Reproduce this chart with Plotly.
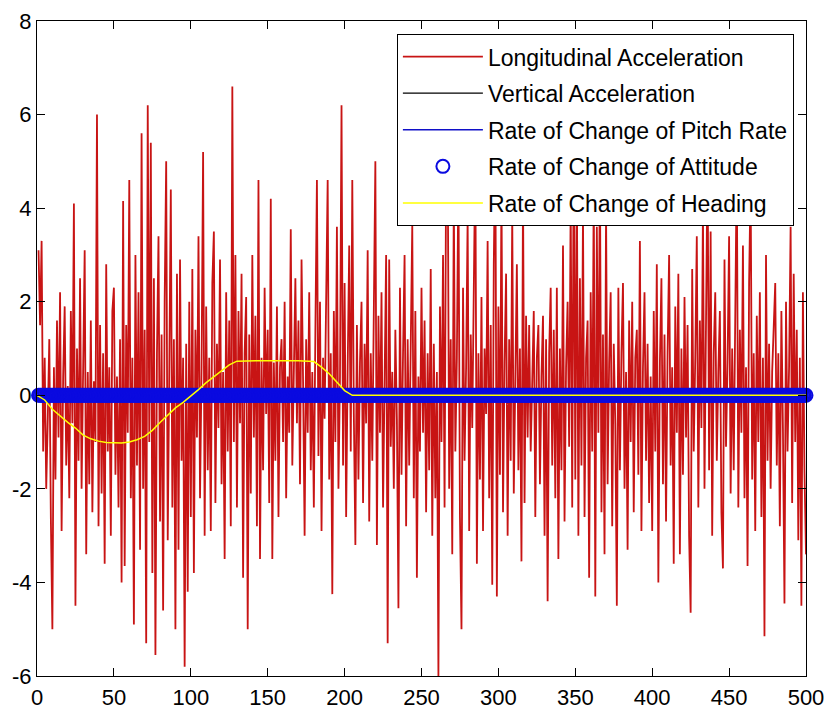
import plotly.graph_objects as go

# Longitudinal acceleration, samples 1..500
long_acc = [
    3.1, 1.5, 3.3, -1.2, 0.8, -2.0, -0.5, 1.2, -2.6, -5.0,
    0.6, -1.8, 1.6, -0.9, 2.2, -2.9, 0.4, 1.9, -1.5, 0.2,
    -2.2, 1.8, -0.6, 4.1, -4.5, 1.0, -1.4, 2.5, -2.0, 0.9,
    3.1, -3.4, 0.5, -1.9, 1.6, -2.5, 0.3, -1.0, 6.0, -2.8,
    1.5, -2.1, 0.9, -3.6, 2.8, -1.2, 0.6, -3.0, 1.8, 2.3,
    -1.7, 0.4, -2.4, 1.2, -4.0, 4.15, -3.65, 1.5, -0.8, 4.6,
    -2.2, 0.8, -4.9, 3.0, -1.5, 2.2, -3.3, 5.6, -2.0, 1.4,
    -5.3, 6.2, -1.0, 5.4, -3.8, 2.5, -5.55, 0.9, 3.4, -2.7,
    1.3, -4.6, 2.0, 5.0, -3.1, 0.5, 4.4, -2.4, 1.2, -5.0,
    2.6, -3.3, 2.9, -1.4, 0.8, -5.8, 1.1, -4.2, 2.0, -2.6,
    2.7, -3.8, 1.4, -0.9, 3.4, -2.2, 0.6, 5.2, -3.0, 1.9,
    -1.6, 0.8, -2.9, 2.4, 3.5, -2.3, 1.1, -0.7, 2.9, -1.9,
    0.5, -3.5, 2.2, -1.2, 1.6, -2.8, 6.6, -1.0, 3.0, -2.4,
    1.8, -0.6, 2.6, -3.9, 0.9, 2.1, -5.0, 1.3, -2.1, 3.0,
    -0.9, 1.7, -2.8, 4.6, -3.5, 0.8, -1.6, 2.3, -0.4, 1.4,
    -2.3, 4.2, -3.5, 0.7, -1.4, 1.9, -2.6, 0.6, 1.2, -1.0,
    2.0, -2.2, 0.4, -0.8, 3.55, -1.5, 1.0, 2.5, -0.6, 1.6,
    -1.9, 2.9, 0.3, -3.0, 1.2, -0.8, 2.2, -1.6, 0.5, -2.4,
    1.4, 4.6, -1.3, 2.0, -2.9, 0.8, -0.5, 2.6, 4.6, -1.8,
    0.9, -4.25, 1.8, -1.0, 3.6, -2.0, 0.4, 6.2, -1.5, 2.4,
    -2.6, 0.6, 3.2, -1.2, 4.6, -0.4, -3.2, 1.5, -1.8, 0.7,
    2.0, -2.3, 1.1, -0.6, 3.1, -2.7, 0.9, -1.4, 2.4, 5.0,
    -3.2, 1.7, -0.8, 2.2, -2.4, 0.6, 3.0, -5.3, 2.9, -1.1,
    0.5, -2.0, 1.4, -0.5, -4.55, 2.3, -1.7, 0.9, 3.0, -2.8,
    1.2, -1.5, 0.7, 3.65, -2.2, 1.8, -3.9, 0.4, -1.2, 2.3,
    -0.8, 1.6, -2.5, 0.9, -1.6, 2.7, -3.0, 1.1, -2.2, 0.5,
    -6.0, 1.9, -1.0, 3.0, -2.4, 4.8, 5.5, -2.0, 1.2, -3.4,
    4.3, -1.2, 0.8, 4.8, -2.6, -5.0, 2.3, -1.4, 0.6, 3.8,
    -2.9, 1.3, -0.7, 2.4, 5.2, -3.6, 0.9, -1.8, 2.1, -2.9,
    1.0, -0.4, 3.3, -2.2, 1.5, -4.05, 2.8, 5.6, -4.3, 1.9,
    -1.7, 4.5, -2.5, 0.7, 2.6, -3.0, 1.2, -1.4, 3.9, -2.1,
    0.5, 2.8, -1.6, 1.0, -3.55, 4.4, -2.3, 1.7, -0.9, 1.5,
    -1.2, 0.6, 1.8, -2.6, 0.8, 1.5, -1.9, 0.4, 1.7, -3.0,
    1.2, -4.4, 0.9, 2.3, -1.5, 1.4, -2.2, 2.3, -3.5, 1.0,
    -1.6, 3.2, -2.7, 0.6, 2.0, -1.1, 4.2, -2.4, 5.8, -1.8,
    4.8, -3.0, 2.5, -1.5, 3.9, -2.6, 0.8, 1.6, -3.9, 2.2,
    -1.2, 4.5, -4.3, 3.6, -0.8, 5.0, -2.5, 1.3, -3.4, 4.0,
    -1.9, 0.7, 2.2, -2.8, 1.1, -0.6, -4.5, 2.3, -1.6, 0.9,
    2.4, -2.0, 0.5, -3.3, 1.6, -1.0, 2.0, -2.5, 0.8, 1.4,
    -1.7, 3.3, -2.9, 0.6, 2.2, -1.4, 1.1, -2.3, 0.4, -2.9,
    1.8, -1.2, 2.8, -4.0, 0.7, 2.5, -1.9, 1.3, -2.7, 0.9,
    3.0, -1.5, 0.6, -3.6, 1.9, -0.8, 2.6, -3.4, 1.0, -1.7,
    2.1, -0.9, 1.5, -3.0, -4.65, 2.7, -1.2, 0.8, 3.4, -2.4,
    1.6, -0.7, 4.0, -2.0, 1.2, 5.2, -1.6, 3.5, -3.0, 0.9,
    2.2, -1.4, 0.5, 1.8, -2.5, -3.7, 2.9, -1.1, 0.7, 3.4,
    -2.1, 1.0, -1.6, 2.6, 5.0, -2.4, 1.4, -0.8, 3.2, -2.2,
    0.6, -3.65, 2.4, 4.6, -1.8, 0.9, -2.9, 1.7, -1.0, 2.2,
    -2.6, 0.8, -5.15, 3.0, -1.4, 1.1, -2.0, 0.5, 1.6, 2.4,
    -1.5, 0.9, -2.8, 1.8, -0.7, -4.45, 2.0, -1.2, 0.6, 3.6,
    -2.3, 2.6, -1.0, 1.4, -3.1, 0.8, -4.5, 2.2, -1.6, -3.4,
]
samples = list(range(1, len(long_acc) + 1))

# Vertical acceleration, pitch-rate change and attitude change are all zero
vert_acc = [0.0] * len(samples)
pitch_rate_change = [0.0] * len(samples)
attitude_change = [0.0] * len(samples)

# Rate of change of heading (read at sample points)
heading_x = [0, 5, 10, 15, 20, 25, 30, 35, 40, 45, 50, 55, 60, 65, 70, 75, 80,
             85, 90, 95, 100, 105, 110, 115, 120, 125, 130, 140, 150, 160, 170,
             180, 185, 190, 195, 200, 205, 500]
heading_y = [0, -0.1, -0.3, -0.45, -0.58, -0.7, -0.85, -0.93, -0.98, -1.01,
             -1.02, -1.02, -1.0, -0.95, -0.88, -0.75, -0.58, -0.42, -0.27,
             -0.15, -0.02, 0.12, 0.27, 0.4, 0.52, 0.65, 0.73, 0.74, 0.74, 0.74,
             0.74, 0.72, 0.6, 0.46, 0.28, 0.1, 0, 0]

x_ticks = [0, 50, 100, 150, 200, 250, 300, 350, 400, 450, 500]
y_ticks = [-6, -4, -2, 0, 2, 4, 6, 8]

FONT = "Liberation Sans, Arial, Helvetica, sans-serif"

fig = go.Figure()
fig.add_trace(go.Scatter(x=samples, y=long_acc, mode="lines",
                         name="Longitudinal Acceleration",
                         line=dict(color="#c81414", width=1.8),
                         legendgroup="a"))
fig.add_trace(go.Scatter(x=samples, y=vert_acc, mode="lines",
                         name="Vertical Acceleration",
                         line=dict(color="black", width=1.2),
                         legendgroup="b"))
fig.add_trace(go.Scatter(x=samples, y=pitch_rate_change, mode="lines",
                         name="Rate of Change of Pitch Rate",
                         line=dict(color="#1010c8", width=1.5),
                         legendgroup="c"))
fig.add_trace(go.Scatter(x=samples, y=attitude_change, mode="markers",
                         name="Rate of Change of Attitude",
                         marker=dict(symbol="circle-open", size=13,
                                     color="#0a0ae0", line=dict(width=2)),
                         cliponaxis=False, legendgroup="d"))
fig.add_trace(go.Scatter(x=heading_x, y=heading_y, mode="lines",
                         name="Rate of Change of Heading",
                         line=dict(color="#ffff00", width=1.5),
                         legendgroup="e"))

axis_common = dict(showline=True, linecolor="black", linewidth=1,
                   mirror="ticks", ticks="inside", ticklen=8,
                   tickcolor="black", showgrid=False, zeroline=False,
                   automargin=False,
                   tickfont=dict(family=FONT, size=22, color="black"))

fig.update_xaxes(range=[0, 500], tickvals=x_ticks,
                 ticktext=[str(v) for v in x_ticks],
                 ticklabelstandoff=2, **axis_common)
fig.update_yaxes(range=[-6, 8], tickvals=y_ticks,
                 ticktext=[str(v) for v in y_ticks], **axis_common)

fig.update_layout(
    width=828, height=713,
    margin=dict(l=37, r=22, t=21, b=37),
    paper_bgcolor="white", plot_bgcolor="white",
    font=dict(family=FONT, size=22, color="black"),
    showlegend=True,
    legend=dict(x=0.468, y=0.98, xanchor="left", yanchor="top",
                bgcolor="white", bordercolor="black", borderwidth=1,
                font=dict(family=FONT, size=23, color="black"),
                traceorder="grouped", tracegroupgap=3.7,
                itemwidth=80),
)

fig.write_html("out.html")
